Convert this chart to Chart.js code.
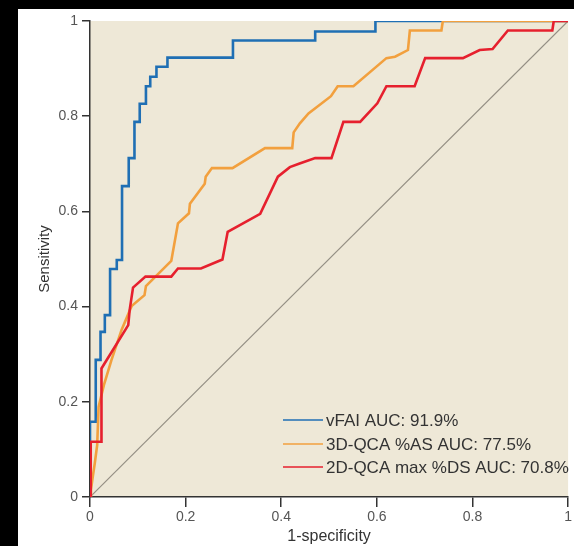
<!DOCTYPE html>
<html><head><meta charset="utf-8">
<script src="https://cdn.jsdelivr.net/npm/chart.js@4.4.1/dist/chart.umd.min.js"></script>
<style>html,body{margin:0;padding:0;background:#000;overflow:hidden}#wrap{position:absolute;left:0;top:0;width:574px;height:546px}</style>
</head><body><div id="wrap"><canvas id="c" width="574" height="546"></canvas></div>
<script>
const tickValues=[0,0.2,0.4,0.6,0.8,1];
const tickLabels=['0','0.2','0.4','0.6','0.8','1'];
const seriesLabels=['vFAI AUC: 91.9%','3D-QCA %AS AUC: 77.5%','2D-QCA max %DS AUC: 70.8%'];
const vfaiFpr=[0,0,0.012,0.022,0.031,0.042,0.056,0.067,0.081,0.093,0.104,0.117,0.126,0.139,0.162,0.299,0.471,0.597,1];
const vfaiTpr=[0,0.158,0.288,0.347,0.382,0.479,0.498,0.653,0.712,0.788,0.826,0.863,0.883,0.904,0.923,0.959,0.978,1,1];
const qca3Fpr=[0,0.002,0.006,0.010,0.015,0.018,0.029,0.045,0.066,0.087,0.114,0.117,0.170,0.184,0.207,0.209,0.240,0.242,0.255,0.298,0.366,0.423,0.426,0.439,0.457,0.504,0.518,0.551,0.620,0.638,0.665,0.669,0.735,0.738,1];
const qca3Tpr=[0,0.015,0.044,0.071,0.109,0.189,0.235,0.288,0.351,0.401,0.424,0.443,0.496,0.575,0.596,0.616,0.658,0.673,0.691,0.691,0.733,0.733,0.766,0.785,0.806,0.842,0.863,0.863,0.922,0.925,0.939,0.980,0.980,1,1];
const qca2Fpr=[0,0.001,0.002,0.024,0.024,0.080,0.083,0.090,0.116,0.170,0.184,0.232,0.277,0.288,0.356,0.393,0.418,0.437,0.471,0.505,0.530,0.565,0.601,0.620,0.679,0.701,0.780,0.815,0.842,0.874,0.967,0.970,1];
const qca2Tpr=[0,0.057,0.116,0.116,0.270,0.361,0.393,0.440,0.463,0.463,0.480,0.480,0.499,0.557,0.595,0.673,0.693,0.700,0.712,0.712,0.788,0.788,0.827,0.863,0.863,0.922,0.922,0.939,0.941,0.980,0.980,1,1];
const refFpr=[0,1];
const refTpr=[0,1];

const pts=(xs,ys)=>xs.map((x,i)=>({x:x,y:ys[i]}));
const SANS="'Liberation Sans',Arial,sans-serif";
const colors=['#1F6FB4','#F2A03E','#E6202E'];

const bg={id:'bg',beforeDraw(ch){const c=ch.ctx,a=ch.chartArea;c.save();c.fillStyle='#000';c.fillRect(0,0,ch.width,ch.height);c.fillStyle='#fff';c.fillRect(18,9,ch.width-18,ch.height-9);c.fillStyle='#EEE8D7';c.fillRect(a.left,a.top,a.right-a.left,a.bottom-a.top);c.restore();}};
const leg={id:'leg',afterDatasetsDraw(ch){const c=ch.ctx;c.save();c.font='17px '+SANS;c.textBaseline='middle';c.textAlign='left';
 const rows=[420,444,467];
 for(let i=0;i<3;i++){c.strokeStyle=colors[i];c.lineWidth=1.5;c.beginPath();c.moveTo(283,rows[i]);c.lineTo(323,rows[i]);c.stroke();c.fillStyle='#333';c.fillText(seriesLabels[i],326,rows[i]+1);}
 c.restore();}};

new Chart(document.getElementById('c'),{
 type:'line',
 data:{datasets:[
  {label:seriesLabels[0],data:pts(vfaiFpr,vfaiTpr),borderColor:colors[0],borderWidth:2.6,stepped:'before',pointRadius:0,order:3},
  {label:seriesLabels[1],data:pts(qca3Fpr,qca3Tpr),borderColor:colors[1],borderWidth:2.6,pointRadius:0,tension:0,order:2},
  {label:seriesLabels[2],data:pts(qca2Fpr,qca2Tpr),borderColor:colors[2],borderWidth:2.6,pointRadius:0,tension:0,order:1},
  {label:'ref',data:pts(refFpr,refTpr),borderColor:'#948f84',borderWidth:1.2,pointRadius:0,order:4}
 ]},
 options:{responsive:false,devicePixelRatio:1,animation:false,
  layout:{autoPadding:false,padding:{top:21,right:3,bottom:0,left:0}},
  plugins:{legend:{display:false},tooltip:{enabled:false}},
  scales:{
   x:{type:'linear',min:0,max:1,
    afterBuildTicks(s){s.ticks=tickValues.map(v=>({value:v}));},
    afterFit(s){s.height=49;},
    ticks:{callback:(v,i)=>tickLabels[i],color:'#555',font:{family:SANS,size:14},padding:2,maxRotation:0,autoSkip:false},
    grid:{drawOnChartArea:false,drawTicks:true,tickLength:10,color:'#333',tickColor:'#333',lineWidth:1.5},
    border:{display:true,color:'#333',width:1.5},
    title:{display:true,text:'1-specificity',color:'#333',font:{family:SANS,size:16},padding:{top:0,bottom:0}}},
   y:{type:'linear',min:0,max:1,
    afterBuildTicks(s){s.ticks=tickValues.map(v=>({value:v}));},
    afterFit(s){s.width=90;},
    ticks:{callback:(v,i)=>tickLabels[i],color:'#555',font:{family:SANS,size:14},padding:4,autoSkip:false},
    grid:{drawOnChartArea:false,drawTicks:true,tickLength:8,color:'#333',tickColor:'#333',lineWidth:1.5},
    border:{display:true,color:'#333',width:1.5},
    title:{display:true,text:'Sensitivity',color:'#333',font:{family:SANS,size:15},padding:{top:36,bottom:0}}}
  }},
 plugins:[bg,leg]
});
</script></body></html>
